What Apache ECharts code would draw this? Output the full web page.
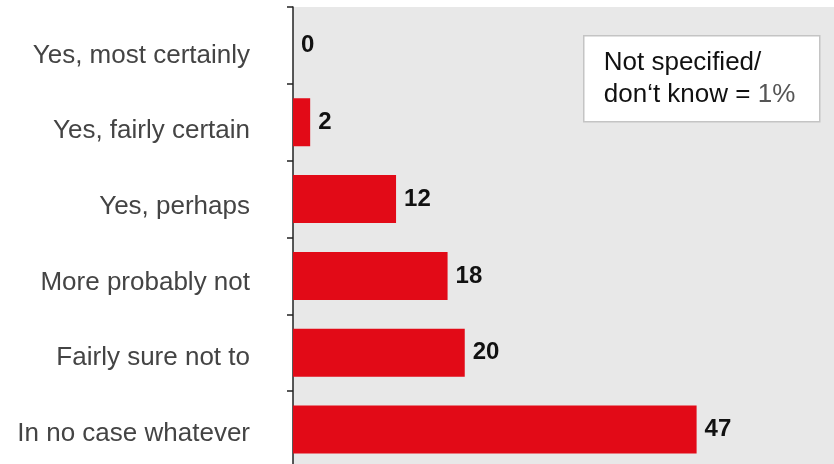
<!DOCTYPE html>
<html>
<head>
<meta charset="utf-8">
<style>
  html, body { margin: 0; padding: 0; background: #ffffff; }
  #chart { width: 834px; height: 464px; }
</style>
<script src="https://cdn.jsdelivr.net/npm/echarts@6/dist/echarts.min.js"></script>
</head>
<body>
<div id="chart"></div>
<script>
// Survey answers, top to bottom
const categories = [
  'Yes, most certainly',
  'Yes, fairly certain',
  'Yes, perhaps',
  'More probably not',
  'Fairly sure not to',
  'In no case whatever'
];
// Share of respondents in percent
const values = [0, 2, 12, 18, 20, 47];
// Note shown in the box
const noteLine1 = 'Not specified/';
const noteLine2 = 'don\u2018t know = ';
const noteValue = '1%';

const FONT = 'Liberation Sans, Arial, sans-serif';
const chart = echarts.init(document.getElementById('chart'), null, { renderer: 'canvas' });

// Category labels sit a little below the band centre, easing off towards the bottom
const labelRich = {};
categories.forEach(function (c, i) {
  labelRich['r' + i] = {
    fontSize: 26,
    color: '#444444',
    fontFamily: FONT,
    padding: [Math.round(2 * (10 - 1.1 * i)), 0, 0, 0]
  };
});

chart.setOption({
  animation: false,
  backgroundColor: '#ffffff',
  textStyle: { fontFamily: FONT },
  grid: {
    left: 293,
    top: 7,
    right: 0,
    height: 461,
    outerBoundsMode: 'none',
    show: true,
    backgroundColor: '#e8e8e8',
    borderWidth: 0
  },
  xAxis: {
    type: 'value',
    min: 0,
    max: 63,
    show: false
  },
  yAxis: {
    type: 'category',
    inverse: true,
    data: categories,
    axisLine: { show: true, lineStyle: { color: '#222222', width: 1.5 } },
    axisTick: { show: true, length: 6, lineStyle: { color: '#222222', width: 1.5 } },
    axisLabel: {
      margin: 43,
      formatter: function (v, i) { return '{r' + i + '|' + v + '}'; },
      rich: labelRich
    },
    splitLine: { show: false }
  },
  series: [{
    type: 'bar',
    data: values,
    barWidth: 48,
    itemStyle: { color: '#e20a17' },
    label: {
      show: true,
      position: 'right',
      distance: 8,
      fontSize: 24,
      fontWeight: 'bold',
      color: '#111111',
      fontFamily: FONT
    }
  }],
  graphic: [{
    type: 'group',
    left: 583,
    top: 35,
    children: [{
      type: 'rect',
      shape: { x: 0, y: 0, width: 236, height: 86 },
      style: { fill: '#ffffff', stroke: '#c4c4c4', lineWidth: 1.5 }
    }, {
      type: 'text',
      x: 20,
      y: 11,
      style: {
        text: '{a|' + noteLine1 + '}\n{a|' + noteLine2 + '}{b|' + noteValue + '}',
        rich: {
          a: { fontSize: 26, lineHeight: 32, fill: '#111111', fontFamily: FONT },
          b: { fontSize: 26, lineHeight: 32, fill: '#555555', fontFamily: FONT }
        }
      }
    }]
  }]
});
</script>
</body>
</html>
